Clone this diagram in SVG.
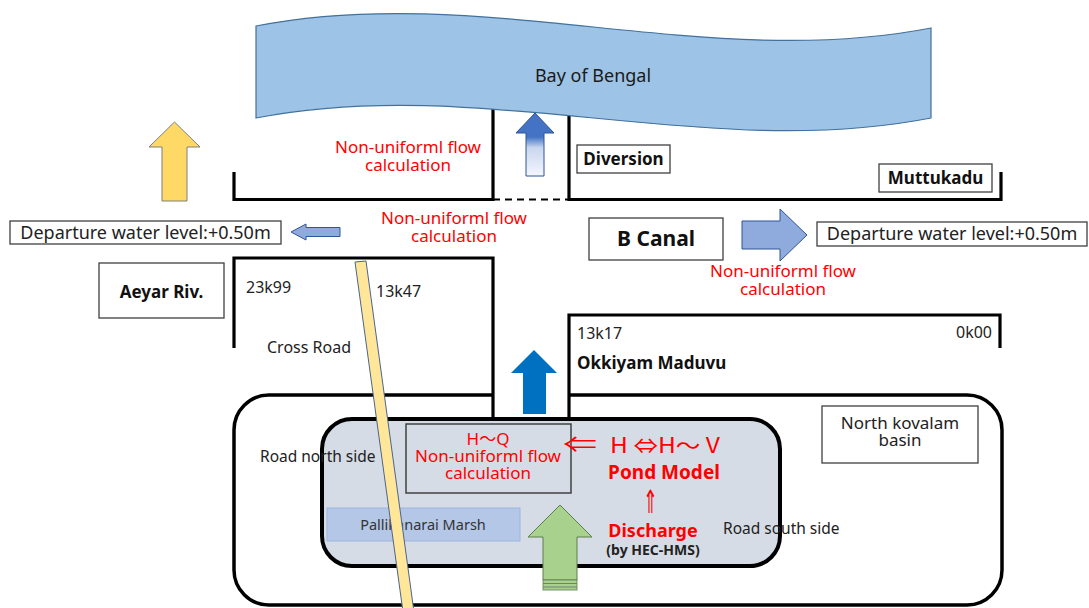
<svg xmlns="http://www.w3.org/2000/svg" width="1089" height="608" viewBox="0 0 1089 608">
<style>
text{font-family:"Noto Sans","Liberation Sans","Noto Sans CJK JP",sans-serif;}
.t{font-size:16px;fill:#222;}
.tb{font-size:17px;font-weight:bold;fill:#111;}
.red{font-size:17px;fill:#FF0000;text-anchor:middle;}
.cjk{font-family:"Noto Sans CJK JP","Noto Sans",sans-serif;}
.bank{fill:none;stroke:#000;stroke-width:3.2;}
.box{fill:#fff;stroke:#404040;stroke-width:1.3;}
.blueArrow{fill:#8FAADC;stroke:#2F5597;stroke-width:1;}
</style>
<defs>
<linearGradient id="divg" x1="0" y1="113" x2="0" y2="176" gradientUnits="userSpaceOnUse">
<stop offset="0" stop-color="#4472C4"/>
<stop offset="0.38" stop-color="#4472C4"/>
<stop offset="0.55" stop-color="#C9D6EE"/>
<stop offset="1" stop-color="#F4F7FC"/>
</linearGradient>
</defs>

<g id="banks">
<path class="bank" d="M234,172 V199.5 H493 V108"/>
<path class="bank" d="M569,112 V199.5 H1001 V172"/>
<line x1="493" y1="199.5" x2="569" y2="199.5" stroke="#000" stroke-width="2" stroke-dasharray="7,5"/>
<path class="bank" d="M234,348 V258 H493 V419"/>
<path class="bank" d="M1000,348 V315 H569 V419"/>
</g>

<g id="bay">
<path d="M256,26 C481,-18 706,72 931,28 V118 C706,162 481,74 256,118 Z" fill="#9DC3E6" stroke="#41719C" stroke-width="1.2"/>
<text x="593" y="82" text-anchor="middle" style="font-size:18px;fill:#1a1a1a">Bay of Bengal</text>
</g>

<g id="basin">
<path d="M493,395 H269 A35,35 0 0 0 234,430 V570 A35,35 0 0 0 269,605 H967 A35,35 0 0 0 1002,570 V430 A35,35 0 0 0 967,395 H569" fill="none" stroke="#000" stroke-width="3.5"/>
</g>

<g id="pond">
<rect x="322" y="419" width="458" height="147" rx="30" fill="#D6DCE5" stroke="#000" stroke-width="4"/>
</g>

<g id="marsh">
<rect x="327" y="508" width="193" height="33" fill="#B4C7E7" stroke="#9DB5E0" stroke-width="1"/>
<text x="423" y="530" text-anchor="middle" style="font-size:14.5px;fill:#333">Pallikanarai Marsh</text>
</g>

<g id="hq-box">
<rect x="406" y="424" width="165" height="69" fill="none" stroke="#404040" stroke-width="1.5"/>
<text class="red" x="488" y="445">H<tspan class="cjk">～</tspan>Q</text>
<text class="red" x="488" y="462">Non-uniforml flow</text>
<text class="red" x="488" y="479">calculation</text>
</g>

<g id="road">
<polygon points="355,262 366,261 414,612 403,612" fill="#FFE699" stroke="#4A6490" stroke-width="1"/>
</g>

<g id="labels">
<text class="t" x="246" y="293">23k99</text>
<text class="t" x="376" y="297">13k47</text>
<text class="t" x="267" y="353">Cross Road</text>
<text class="t" x="577" y="339">13k17</text>
<text class="t" x="956" y="338">0k00</text>
<text class="tb" x="577" y="369">Okkiyam Maduvu</text>
<text x="260" y="462" style="font-size:15.5px;fill:#222">Road north side</text>
<text x="723" y="534" style="font-size:15.5px;fill:#222">Road south side</text>
<text class="red" x="408" y="153">Non-uniforml flow</text>
<text class="red" x="408" y="171">calculation</text>
<text class="red" x="454" y="224">Non-uniforml flow</text>
<text class="red" x="454" y="242">calculation</text>
<text class="red" x="783" y="277">Non-uniforml flow</text>
<text class="red" x="783" y="295">calculation</text>
</g>

<g id="pond-model">
<text class="cjk" x="563" y="452" textLength="34" lengthAdjust="spacingAndGlyphs" style="font-size:22px;fill:#FF0000">⇐</text>
<text class="cjk" x="610" y="453" textLength="110" lengthAdjust="spacingAndGlyphs" style="font-size:21px;fill:#FF0000">H ⇔H～ V</text>
<text x="664" y="479" text-anchor="middle" style="font-size:19px;font-weight:bold;fill:#FF0000">Pond Model</text>
<text class="cjk" x="643" y="513" textLength="15" lengthAdjust="spacingAndGlyphs" style="font-size:32px;fill:#FF0000">⇑</text>
<text x="653" y="537" text-anchor="middle" style="font-size:18px;font-weight:bold;fill:#FF0000">Discharge</text>
<text x="653" y="555" text-anchor="middle" style="font-size:14px;font-weight:bold;fill:#222">(by HEC-HMS)</text>
</g>

<g id="diversion">
<rect class="box" x="577" y="145" width="93" height="28"/>
<text class="tb" x="623.5" y="165" text-anchor="middle">Diversion</text>
</g>
<g id="muttukadu">
<rect class="box" x="879" y="164" width="113" height="28"/>
<text class="tb" x="935.5" y="184" text-anchor="middle">Muttukadu</text>
</g>
<g id="bcanal">
<rect class="box" x="589" y="218" width="134" height="42"/>
<text x="656" y="246" text-anchor="middle" style="font-size:21px;font-weight:bold;fill:#111">B Canal</text>
</g>
<g id="aeyar">
<rect class="box" x="99" y="263" width="125" height="55"/>
<text class="tb" x="161.5" y="298" text-anchor="middle">Aeyar Riv.</text>
</g>
<g id="departure-left">
<rect class="box" x="10" y="221" width="271" height="23"/>
<text x="145.5" y="239" text-anchor="middle" style="font-size:18px;fill:#222">Departure water level:+0.50m</text>
</g>
<g id="departure-right">
<rect class="box" x="817" y="222" width="270" height="24"/>
<text x="952" y="240" text-anchor="middle" style="font-size:18px;fill:#222">Departure water level:+0.50m</text>
</g>
<g id="north-kovalam">
<rect class="box" x="822" y="406" width="156" height="57"/>
<text x="900" y="429" text-anchor="middle" style="font-size:17px;fill:#222">North kovalam</text>
<text x="900" y="446" text-anchor="middle" style="font-size:17px;fill:#222">basin</text>
</g>

<g id="connectors">
<polygon points="174.5,122 200,147 187,147 187,201 162,201 162,147 149,147" fill="#FFD966" stroke="#7F7F7F" stroke-width="1"/>
<polygon class="blueArrow" points="291,232 306,224 306,227.5 340,227.5 340,236.5 306,236.5 306,240"/>
<polygon class="blueArrow" points="742,221 780,221 780,209 807,235 780,261 780,249 742,249"/>
<polygon points="535,113 554,133 544,133 544,176 526,176 526,133 516,133" fill="url(#divg)" stroke="#2F5597" stroke-width="1"/>
<polygon points="534,350 557,373 546,373 546,414 523,414 523,373 511,373" fill="#0070C0"/>
<polygon points="560,505 592,537 577,537 577,580 543,580 543,537 528,537" fill="#A9D18E" stroke="#5E7F4A" stroke-width="1"/>
<rect x="543" y="580" width="34" height="10" fill="#A9D18E" stroke="#5E7F4A" stroke-width="0.8"/>
<line x1="543" y1="583.5" x2="577" y2="583.5" stroke="#6E7F7A" stroke-width="1.2"/>
<line x1="543" y1="587" x2="577" y2="587" stroke="#6E7F7A" stroke-width="1.2"/>
</g>
</svg>
